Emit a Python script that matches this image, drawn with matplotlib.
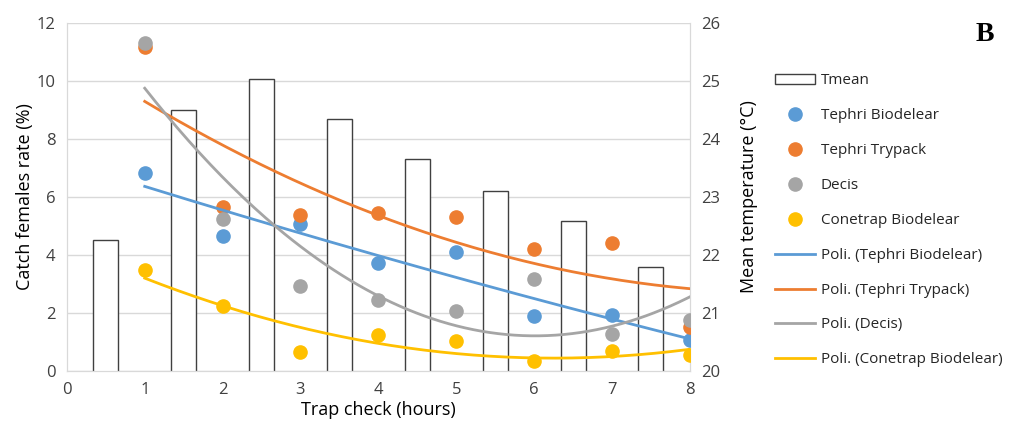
import numpy as np
import matplotlib
matplotlib.use('Agg')
import matplotlib.pyplot as plt
from matplotlib.patches import Patch
from matplotlib.lines import Line2D

plt.rcParams['font.family'] = ['Open Sans', 'DejaVu Sans']

# data
hours = np.array([1, 2, 3, 4, 5, 6, 7, 8])
bar_pos = np.array([0.5, 1.5, 2.5, 3.5, 4.5, 5.5, 6.5, 7.5])
tmean = [22.26, 24.5, 25.03, 24.34, 23.66, 23.1, 22.59, 21.79]

tephri_bio = [6.83, 4.66, 5.07, 3.72, 4.10, 1.90, 1.93, 1.07]
tephri_try = [11.17, 5.66, 5.38, 5.45, 5.31, 4.20, 4.41, 1.52]
decis = [11.31, 5.24, 2.93, 2.45, 2.07, 3.17, 1.28, 1.76]
conetrap = [3.48, 2.24, 0.66, 1.24, 1.03, 0.34, 0.69, 0.55]

series = [('Tephri Biodelear', tephri_bio, '#5B9BD5'),
          ('Tephri Trypack', tephri_try, '#ED7D31'),
          ('Decis', decis, '#A5A5A5'),
          ('Conetrap Biodelear', conetrap, '#FFC000')]

fig = plt.figure(figsize=(10.13, 4.3), dpi=100)
ax2 = fig.add_axes([0.066, 0.137, 0.615, 0.8095])
ax = ax2.twinx()
ax2.yaxis.tick_right()
ax2.yaxis.set_label_position('right')
ax.yaxis.tick_left()
ax.yaxis.set_label_position('left')
ax.set_zorder(ax2.get_zorder() + 1)
ax.patch.set_visible(False)

# temperature bars (secondary axis)
ax2.bar(bar_pos, tmean, width=0.32, bottom=0, color='white',
        edgecolor='#404040', linewidth=1.0, zorder=2)
ax2.set_ylim(20, 26)
ax2.set_yticks(range(20, 27))
ax2.yaxis.grid(True, color='#D9D9D9', linewidth=1.0, zorder=0)
ax2.set_axisbelow(True)
ax2.set_ylabel('Mean temperature (°C)', fontsize=13, labelpad=14)

xs = np.linspace(1, 8, 200)
for name, vals, col in series:
    ax.plot(hours, vals, 'o', color=col, markersize=9.5, zorder=3)
for name, vals, col in series:
    c = np.polyfit(hours, vals, 2)
    ax.plot(xs, np.polyval(c, xs), '-', color=col, linewidth=2, zorder=4)

ax.set_ylim(0, 12)
ax.set_yticks(range(0, 13, 2))
ax.set_xlim(0, 8)
ax2.set_xlim(0, 8)
ax2.set_xticks(range(0, 9))
ax.set_ylabel('Catch females rate (%)', fontsize=13, labelpad=2)
ax2.set_xlabel('Trap check (hours)', fontsize=13, labelpad=2)

for a in (ax, ax2):
    a.tick_params(length=0, labelsize=12, colors='#404040', pad=8)
    a.spines['top'].set_visible(False)
    for s in ('left', 'right', 'bottom'):
        a.spines[s].set_color('#D9D9D9')

# legend
handles = [Patch(facecolor='white', edgecolor='#404040', linewidth=1.0, label='Tmean')]
for name, vals, col in series:
    handles.append(Line2D([], [], marker='o', linestyle='none', color=col,
                          markersize=9.5, label=name))
for name, vals, col in series:
    handles.append(Line2D([], [], color=col, linewidth=2,
                          label='Poli. (%s)' % name))
fig.legend(handles=handles, loc='upper left', bbox_to_anchor=(0.758, 0.847),
           frameon=False, fontsize=11, handlelength=2.6, handleheight=0.55,
           handletextpad=0.35, labelspacing=1.3, borderpad=0, labelcolor='#262626')

fig.text(0.972, 0.92, 'B', fontsize=20, fontweight='bold',
         family='Liberation Serif', ha='center', va='center')

fig.savefig('out.png', dpi=100)
